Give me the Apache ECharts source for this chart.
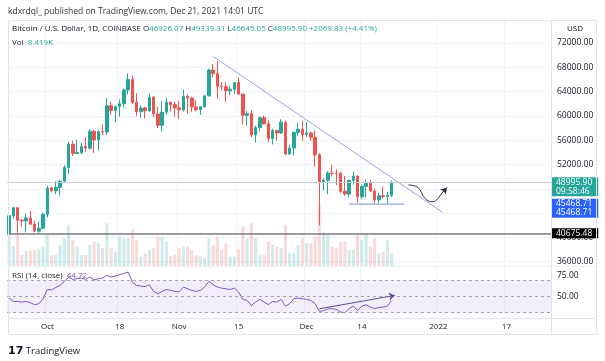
<!DOCTYPE html>
<html><head><meta charset="utf-8">
<script src="https://cdn.jsdelivr.net/npm/echarts@6/dist/echarts.min.js"></script>
<style>html,body{margin:0;padding:0;background:#fff}#c{width:605px;height:361px}</style>
</head><body><div id="c"></div>
<script>
// ---------- DATA (daily candles from 2021-09-22, BTC/USD Coinbase) ----------
const firstDay = [2021, 9, 22];
const lastAxisDay = [2022, 1, 27];
const open = [40700,43570,44890,42840,42720,43210,42170,41030,41520,43790,
 48140,47660,48230,49250,51500,55340,53800,53960,54960,54690,
 57480,56040,57400,57340,61670,60880,61530,62000,64280,66000,
 62210,60690,61300,60850,63080,60330,58450,60620,62250,61860,
 61320,61000,63220,62950,61450,61000,61530,63300,67550,66950,
 64880,64800,64150,64400,65500,63600,60100,60370,56900,58100,
 59700,58700,56300,57580,57200,58960,53720,54720,57270,57800,
 56950,57200,56500,53600,49200,49400,50580,50550,50500,47600,
 47140,49390,50100,46700,48380,48870,47630,46160,46850,46700,
 46926.07];
const high = [44000,44970,45000,42960,43920,44350,42780,42600,44100,48490,
 48330,49230,49500,51880,55750,55900,56100,55500,56500,57800,
 57680,57600,58550,62900,62350,61700,62700,64490,67000,66640,
 63730,61750,61490,63700,63290,61500,62480,62960,62350,62400,
 62450,64300,63500,63100,62600,61600,63350,67800,68530,69000,
 65600,65500,64950,65550,66300,63650,60800,60950,58380,59850,
 60050,59300,57880,57700,59450,59200,55300,57450,58900,59200,
 59050,57400,57600,53850,49700,50900,51950,51200,50800,50100,
 49500,50800,50200,48700,49500,49450,48000,47350,48300,47550,
 49339.31];
const low = [40550,43090,40700,41700,40800,42100,40900,40750,41430,43290,
 47430,47130,46900,49030,50400,53400,53670,53700,54100,54450,
 53900,54300,56850,56850,60200,58950,59850,61350,63500,62000,
 60000,59700,59550,60650,59820,58000,57450,60180,60700,59900,
 59500,60700,60400,60700,60750,60150,61350,63200,66400,62820,
 64150,62300,63400,63600,63500,58600,58400,56500,55600,57450,
 58550,55650,55300,55950,57000,53550,53650,53500,56750,55900,
 56500,55850,51700,42000,47700,47100,50050,48600,47300,46850,
 46600,48650,45700,46300,46550,47550,45500,45600,46400,45580,
 46645.05];
const close = [43570,44890,42840,42720,43210,42170,41030,41520,43790,48140,
 47660,48230,49250,51500,55340,53800,53960,54960,54690,57480,
 56040,57400,57340,61670,60880,61530,62000,64280,66000,62210,
 60690,61300,60850,63080,60330,58450,60620,62250,61860,61320,
 61000,63220,62950,61450,61000,61530,63300,67550,66950,64880,
 64800,64150,64400,65500,63600,60100,60370,56900,58100,59700,
 58700,56300,57580,57200,58960,53720,54720,57270,57800,56950,
 57200,56500,53600,49200,49400,50580,50550,50500,47600,47140,
 49390,50100,46700,48380,48870,47630,46160,46850,46700,46926.07,
 48995.90];
// volume, thousands of BTC
const volume = [20.5,12.8,21.6,7.3,10.1,10.1,10.6,11.0,12.8,20.5,
 7.3,7.3,13.9,18.3,27.1,17.2,12.8,7.3,7.3,13.9,
 16.1,15.0,11.7,28.2,11.7,9.5,19.4,18.3,18.3,24.2,
 17.2,6.2,8.4,10.6,11.7,19.4,19.4,16.1,6.6,7.3,
 11.7,13.2,12.8,10.6,7.3,6.2,5.1,18.3,13.9,19.4,
 10.6,15.0,6.2,6.2,10.6,26.0,18.3,28.2,18.3,7.3,
 7.3,16.1,13.9,12.8,11.7,27.1,8.4,8.4,13.9,18.3,
 15.0,15.0,19.4,40.0,22.7,21.6,12.8,11.7,16.1,16.1,
 10.6,10.6,20.5,17.2,21.6,12.8,18.3,8.4,9.5,17.2,
 8.419];
const rsi = [47.9,43.8,43.8,43.0,43.8,42.2,39.8,41.0,47.1,58.5,
 58.0,61.0,63.4,68.4,73.3,70.8,71.7,72.5,70.8,73.7,
 70.0,71.7,72.5,75.7,73.7,74.9,76.5,78.2,79.8,67.5,
 63.4,62.6,62.0,64.3,56.1,53.2,56.1,58.5,57.3,56.1,
 55.5,61.4,59.3,57.3,56.1,57.3,61.4,68.4,64.3,61.4,
 60.1,59.3,58.5,60.1,55.3,46.3,45.1,38.9,43.0,46.3,
 43.0,39.8,43.8,43.0,46.3,38.1,41.0,47.1,47.9,47.1,
 46.3,45.1,41.0,31.6,32.4,34.9,34.9,34.1,30.8,30.0,
 34.9,38.1,32.8,38.1,39.8,36.9,34.9,36.5,36.9,38.1,
 44.72];
const tickDates = ['2021-10-01','2021-10-18','2021-11-01','2021-11-15','2021-12-01','2021-12-14','2022-01-01','2022-01-17'];
const tickLabels = ['Oct','18','Nov','15','Dec','14','2022','17'];
const rsiTickValues = [50, 75];
const rsiLevels = [70, 50, 30];
const countdown = '09:58:46';
const supportLevel = 45468.71;
const horizLevel = 40675.48;
const trendLine = [['2021-11-09T02:00', 69750], ['2022-01-02T01:00', 44100]];
const supportSpan = [['2021-12-11T00:00', 45468.71], ['2021-12-24T00:00', 45468.71]];
const handCurve = [['2021-12-24T23:00', 48626], ['2021-12-26T01:30', 48544], ['2021-12-27T00:00', 48296],
  ['2021-12-27T17:00', 47802], ['2021-12-28T07:00', 46979], ['2021-12-29T07:00', 46156],
  ['2021-12-30T12:00', 45877], ['2021-12-31T14:00', 46156], ['2022-01-01T19:00', 47259], ['2022-01-03T00:00', 48181]];
const rsiTrend = [['2021-12-04T00:00', 34.8], ['2021-12-21T19:00', 51.2]];
const headerText = 'kdxrdql_ published on TradingView.com, Dec 21, 2021 14:01 UTC';
const symbolText = 'Bitcoin / U.S. Dollar, 1D, COINBASE';

// ---------- BUILD ----------
const pad = n => String(n).padStart(2, '0');
const axisDays = [];
for (let d = new Date(firstDay[0], firstDay[1]-1, firstDay[2]); d <= new Date(lastAxisDay[0], lastAxisDay[1]-1, lastAxisDay[2]); d.setDate(d.getDate()+1)) {
  axisDays.push(d.getFullYear() + '-' + pad(d.getMonth()+1) + '-' + pad(d.getDate()));
}
const t = s => new Date(s).getTime();
const tMin = t(axisDays[0] + 'T00:00') - 12*3600e3;
const tMax = t(axisDays[axisDays.length-1] + 'T00:00') + 12*3600e3;
const labelMap = {}; tickDates.forEach((d, i) => labelMap[d] = tickLabels[i]);
const isTick = (i, v) => labelMap[v] !== undefined;

const UP = '#26a69a', DOWN = '#ef5350';
const FONT = '"Open Sans", sans-serif';
const TXT = '#131722';
const n = close.length - 1;
const lastO = open[n], lastC = close[n], prevC = close[n-1];
const chg = lastC - prevC, chgPct = chg / prevC * 100;
const candles = open.map((o, i) => [o, close[i], low[i], high[i]]);
const volData = volume.map((v, i) => ({value: v, itemStyle: {color: close[i] >= open[i] ? 'rgba(38,166,154,0.22)' : 'rgba(239,83,80,0.22)'}}));
const GL = 7, GR = 54;

const chart = echarts.init(document.getElementById('c'), null, {renderer: 'canvas'});
const hiddenCat = (gi) => ({type: 'category', gridIndex: gi, data: axisDays, axisLine: {show: false}, axisTick: {show: false}, axisLabel: {show: false},
  splitLine: {show: gi !== 1, interval: isTick, lineStyle: {color: '#f0f3fa', width: 1}}});
const tagLabel = (text, bg) => ({show: true, position: 'end', distance: 1, formatter: text, backgroundColor: bg, color: '#fff', fontSize: 8.5, lineHeight: 9, padding: [1, 6, 0, 4], fontFamily: FONT});
chart.setOption({
  animation: false,
  textStyle: {fontFamily: FONT},
  title: [
    {text: headerText, left: 8, top: 7, padding: 0, textStyle: {fontSize: 8.5, fontWeight: 'normal', color: '#333', fontFamily: FONT}},
    {text: symbolText + ' O{v|' + lastO.toFixed(2) + '} H{v|' + high[n].toFixed(2) + '} L{v|' + low[n].toFixed(2) + '} C{v|' + lastC.toFixed(2) + '} {v|+' + chg.toFixed(2) + ' (+' + chgPct.toFixed(2) + '%)}',
     left: 12, top: 25, padding: 0, textStyle: {fontSize: 8, fontWeight: 'normal', color: TXT, fontFamily: FONT, rich: {v: {color: UP, fontSize: 8, fontFamily: FONT}}}},
    {text: 'Vol  {v|' + volume[n].toFixed(3) + 'K}', left: 12, top: 39, padding: 0, textStyle: {fontSize: 8, fontWeight: 'normal', color: TXT, fontFamily: FONT, rich: {v: {color: UP, fontSize: 8, fontFamily: FONT}}}},
    {text: 'RSI (14, close)  {v|' + rsi[n].toFixed(2) + '}', left: 12, top: 272, padding: 0, textStyle: {fontSize: 8, fontWeight: 'normal', color: TXT, fontFamily: FONT, rich: {v: {color: '#7e57c2', fontSize: 8, fontFamily: FONT}}}},
    {text: '{l|17} TradingView', left: 8, top: 346, padding: 0, textStyle: {fontSize: 9.5, fontWeight: 'normal', color: TXT, fontFamily: FONT, rich: {l: {fontSize: 11, fontWeight: 'bold', color: TXT, fontFamily: 'DejaVu Sans'}}}}
  ],
  grid: [
    {left: GL, right: GR, top: 20, height: 241.7},
    {left: GL, right: GR, top: 166, height: 100},
    {left: GL, right: GR, top: 267, height: 51}
  ],
  xAxis: [
    hiddenCat(0), hiddenCat(1),
    {type: 'category', gridIndex: 2, data: axisDays, axisLine: {show: false}, axisTick: {show: false},
     axisLabel: {interval: isTick, formatter: v => labelMap[v] || '', color: TXT, fontSize: 8, margin: 5, fontFamily: FONT},
     splitLine: {show: true, interval: isTick, lineStyle: {color: '#f0f3fa'}}},
    {type: 'time', gridIndex: 0, min: tMin, max: tMax, show: false},
    {type: 'time', gridIndex: 2, min: tMin, max: tMax, show: false}
  ],
  yAxis: [
    {type: 'value', gridIndex: 0, position: 'right', min: 36000, max: 75786, interval: 4000, axisLine: {show: false}, axisTick: {show: false},
     axisLabel: {showMaxLabel: false, formatter: v => v.toFixed(2), color: TXT, fontSize: 8.5, margin: 6, fontFamily: FONT},
     splitLine: {show: true, lineStyle: {color: '#f0f3fa'}}},
    {type: 'value', gridIndex: 1, min: 0, max: 66, show: false, splitLine: {show: false}},
    {type: 'value', gridIndex: 2, position: 'right', min: 23.5, max: 86, axisLine: {show: false}, axisTick: {show: false},
     axisLabel: {customValues: rsiTickValues, formatter: v => v.toFixed(2), color: TXT, fontSize: 8.5, margin: 6, fontFamily: FONT},
     splitLine: {show: false}}
  ],
  series: [
    {type: 'bar', xAxisIndex: 1, yAxisIndex: 1, data: volData, barWidth: 3, z: 1, silent: true},
    {type: 'candlestick', xAxisIndex: 0, yAxisIndex: 0, data: candles, barWidth: 3, z: 3,
     itemStyle: {color: UP, color0: DOWN, borderColor: UP, borderColor0: DOWN, borderWidth: 1},
     markLine: {silent: true, symbol: ['none', 'none'], animation: false,
       data: [
         {yAxis: lastC, lineStyle: {color: '#c9cbd1', width: 1, type: 'solid'},
          label: Object.assign(tagLabel(lastC.toFixed(2) + '\n' + countdown, UP), {offset: [0, 4]})},
         {yAxis: supportLevel, lineStyle: {color: 'rgba(0,0,0,0)', width: 0},
          label: Object.assign(tagLabel(supportLevel.toFixed(2) + '\n' + supportLevel.toFixed(2), '#2962ff'), {offset: [0, 4]})},
         {yAxis: horizLevel, lineStyle: {color: '#7b7b7b', width: 1.5, type: 'solid'},
          label: tagLabel(horizLevel.toFixed(2), '#000')}
       ]}},
    {type: 'line', xAxisIndex: 3, yAxisIndex: 0, data: trendLine.map(p => [t(p[0]), p[1]]), showSymbol: false, lineStyle: {color: '#8ea6e2', width: 1}, z: 4, silent: true},
    {type: 'line', xAxisIndex: 3, yAxisIndex: 0, data: supportSpan.map(p => [t(p[0]), p[1]]), showSymbol: false, lineStyle: {color: '#8ea6e2', width: 1.2}, z: 4, silent: true},
    {type: 'line', xAxisIndex: 3, yAxisIndex: 0, data: handCurve.map(p => [t(p[0]), p[1]]), showSymbol: false, smooth: 0.4, lineStyle: {color: '#2a2e39', width: 1}, z: 5, silent: true},
    {type: 'lines', coordinateSystem: 'cartesian2d', xAxisIndex: 3, yAxisIndex: 0, silent: true, z: 5,
     symbol: ['none', 'arrow'], symbolSize: 6,
     lineStyle: {color: '#2a2e39', width: 1, opacity: 1, curveness: 0},
     data: [{coords: handCurve.slice(-2).map(p => [t(p[0]), p[1]])}]},
    {type: 'line', xAxisIndex: 2, yAxisIndex: 2, data: rsi, showSymbol: false, lineStyle: {color: '#7e57c2', width: 1}, z: 3, silent: true,
     markArea: {silent: true, itemStyle: {color: 'rgba(126,87,194,0.1)'}, data: [[{yAxis: rsiLevels[0]}, {yAxis: rsiLevels[2]}]]},
     markLine: {silent: true, symbol: ['none', 'none'], label: {show: false},
       lineStyle: {color: '#a3a6af', type: [3, 3], width: 1},
       data: rsiLevels.map(v => ({yAxis: v}))}},
    {type: 'lines', coordinateSystem: 'cartesian2d', xAxisIndex: 4, yAxisIndex: 2, silent: true, z: 5,
     symbol: ['none', 'arrow'], symbolSize: 6,
     lineStyle: {color: '#5b4f8a', width: 1, opacity: 1, curveness: 0},
     data: [{coords: rsiTrend.map(p => [t(p[0]), p[1]])}]}
  ],
  graphic: [
    {type: 'rect', shape: {x: 8.5, y: 20.5, width: 588, height: 314}, style: {fill: 'none', stroke: '#e0e3eb', lineWidth: 1}, silent: true, z: 10},
    {type: 'line', shape: {x1: 551.5, y1: 20, x2: 551.5, y2: 335}, style: {stroke: '#e0e3eb', lineWidth: 1}, silent: true, z: 10},
    {type: 'line', shape: {x1: 8, y1: 318.5, x2: 597, y2: 318.5}, style: {stroke: '#e0e3eb', lineWidth: 1}, silent: true, z: 10},
    {type: 'line', shape: {x1: 8, y1: 266.5, x2: 597, y2: 266.5}, style: {stroke: '#eef0f4', lineWidth: 1}, silent: true, z: 10},
    {type: 'text', x: 575, y: 25, style: {text: 'USD', fontSize: 8, fill: TXT, align: 'center', fontFamily: FONT}, silent: true, z: 10}
  ]
});
</script>
</body></html>
